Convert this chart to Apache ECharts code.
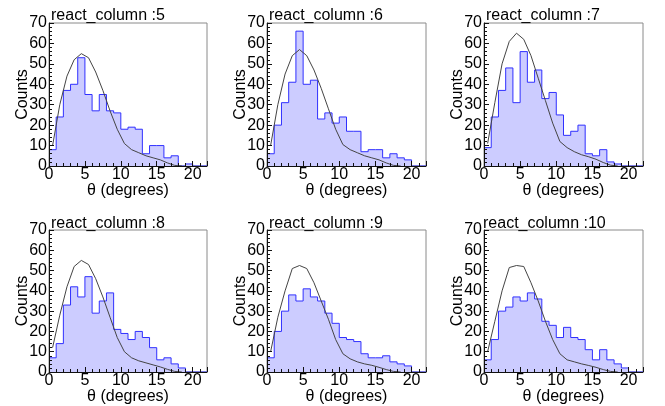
<!DOCTYPE html>
<html>
<head>
<meta charset="utf-8">
<script src="https://cdn.jsdelivr.net/npm/echarts@6/dist/echarts.min.js"></script>
<style>
html,body{margin:0;padding:0;background:#fff;}
#c{width:665px;height:406px;}
</style>
</head>
<body>
<div id="c"></div>
<script>
// Panel titles
var titles = ['react_column :5', 'react_column :6', 'react_column :7',
              'react_column :8', 'react_column :9', 'react_column :10'];
// Histogram bin lower edges (degrees), bin width 1
var binLow = [0,1,2,3,4,5,6,7,8,9,10,11,12,13,14,15,16,17,18,19,20,21];
var binWidth = 1;
// Histogram counts per panel
var h5  = [8,24,37,40,53,35,27,35,27,26,18,19,18,6,10,10,4,5,0,1,0,0];
var h6  = [6,20,31,41,66,40,42,23,26,21,24,17,17,7,8,8,4,6,4,3,0,0];
var h7  = [9,24,37,48,31,56,41,47,33,36,25,15,17,20,6,5,8,2,1,0,0,0];
var h8  = [7,14,33,42,37,47,29,35,39,21,19,16,20,17,12,6,7,4,2,0,0,0];
var h9  = [7,20,30,38,35,41,37,35,29,24,17,16,15,9,7,7,8,5,4,3,0,0];
var h10 = [6,16,30,32,37,35,39,36,25,23,17,22,17,16,11,6,11,6,4,2,0,0];
// Fit curve sample positions (bin centres) and values per panel
var fitX = [0.5,1.5,2.5,3.5,4.5,5.5,6.5,7.5,8.5,9.5,10.5,11.5,12.5,13.5,14.5,15.5,16.5,17.5,18.5];
var f5  = [10,30,44,52,55,53,46,37,27,18,11,8,6.5,5,4,3,1.5,0.3,0];
var f6  = [10,30,45,54,57,54,47,38,28,18,10.5,8,6.5,5,4,3,1.5,0.3,0];
var f7  = [11,31,50,61,65,62,54,43,32,21,12,9,7,5.5,4.5,3.3,1.7,0.4,0];
var f8  = [12,28,42,52,55,53,46,37,27,17,10,7,5.5,4.5,3.5,2.5,1.3,0.3,0];
var f9  = [10,27,40,51,52.5,51,44,35,26,16,9,6.5,5,4,3.3,2.3,1.2,0.3,0];
var f10 = [10,25,40,51.5,52.5,52,44,35,25,16,9,6,5,4,3.2,2.3,1.2,0.3,0];
// Axis tick settings
var xMin = 0, xMax = 22, xInterval = 5;
var yMin = 0, yMax = 70, yInterval = 10;
var xName = 'θ (degrees)';
var yName = 'Counts';

var hists = [h5, h6, h7, h8, h9, h10];
var fits = [f5, f6, f7, f8, f9, f10];

var FONT = "'Liberation Sans', Arial, Helvetica, sans-serif";
var gridLefts = [49, 267, 484];
var gridWidths = [158, 159, 159];
var gridTops = [23, 230];
var gridHeight = 143;
var titleLefts = [[51, 269, 486], [51, 269, 483]];
var titleTops = [8, 216];

var grids = [], xAxes = [], yAxes = [], series = [], titleArr = [];
for (var p = 0; p < 6; p++) {
  var col = p % 3, row = Math.floor(p / 3);
  grids.push({left: gridLefts[col], top: gridTops[row], width: gridWidths[col], height: gridHeight,
    show: true, borderColor: '#8a8a8a', borderWidth: 1, backgroundColor: 'transparent', containLabel: false});
  titleArr.push({text: titles[p], left: titleLefts[row][col], top: titleTops[row], padding: 0,
    textStyle: {fontFamily: FONT, fontSize: 16, fontWeight: 'normal', color: '#000'}});
  xAxes.push({type: 'value', gridIndex: p, min: xMin, max: xMax, interval: xInterval, z: 5,
    axisLine: {show: true, lineStyle: {color: '#111', width: 1}},
    axisTick: {show: true, inside: true, length: 5, lineStyle: {color: '#111'}},
    minorTick: {show: true, splitNumber: 5, length: 3, lineStyle: {color: '#111'}},
    splitLine: {show: false},
    axisLabel: {fontFamily: FONT, fontSize: 16, color: '#000', margin: 1, showMaxLabel: false},
    name: xName, nameLocation: 'middle', nameGap: 17, nameMoveOverlap: false,
    nameTextStyle: {fontFamily: FONT, fontSize: 16, color: '#000'}});
  yAxes.push({type: 'value', gridIndex: p, min: yMin, max: yMax, interval: yInterval, z: 5,
    axisLine: {show: true, lineStyle: {color: '#111', width: 1}},
    axisTick: {show: true, inside: true, length: 5, lineStyle: {color: '#111'}},
    minorTick: {show: true, splitNumber: 5, length: 3, lineStyle: {color: '#111'}},
    splitLine: {show: false},
    axisLabel: {fontFamily: FONT, fontSize: 16, color: '#000', margin: 2},
    name: yName, nameLocation: 'middle', nameGap: 18, nameMoveOverlap: false,
    nameTextStyle: {fontFamily: FONT, fontSize: 16, color: '#000'}});
  var h = hists[p];
  var hd = [];
  for (var i = 0; i < binLow.length; i++) hd.push([binLow[i], h[i]]);
  hd.push([binLow[binLow.length - 1] + binWidth, h[h.length - 1]]);
  series.push({type: 'line', xAxisIndex: p, yAxisIndex: p, step: 'end', data: hd,
    showSymbol: false, symbol: 'none', z: 2,
    lineStyle: {color: '#3030ff', width: 1},
    areaStyle: {color: '#ccccff', opacity: 1}});
  var fd = [];
  for (var k = 0; k < fitX.length; k++) fd.push([fitX[k], fits[p][k]]);
  series.push({type: 'line', xAxisIndex: p, yAxisIndex: p, data: fd, smooth: false,
    showSymbol: false, symbol: 'none', z: 3,
    lineStyle: {color: '#444', width: 1}});
}

var chart = echarts.init(document.getElementById('c'), null, {renderer: 'canvas'});
chart.setOption({
  animation: false,
  backgroundColor: '#fff',
  title: titleArr,
  grid: grids,
  xAxis: xAxes,
  yAxis: yAxes,
  series: series
});
</script>
</body>
</html>
